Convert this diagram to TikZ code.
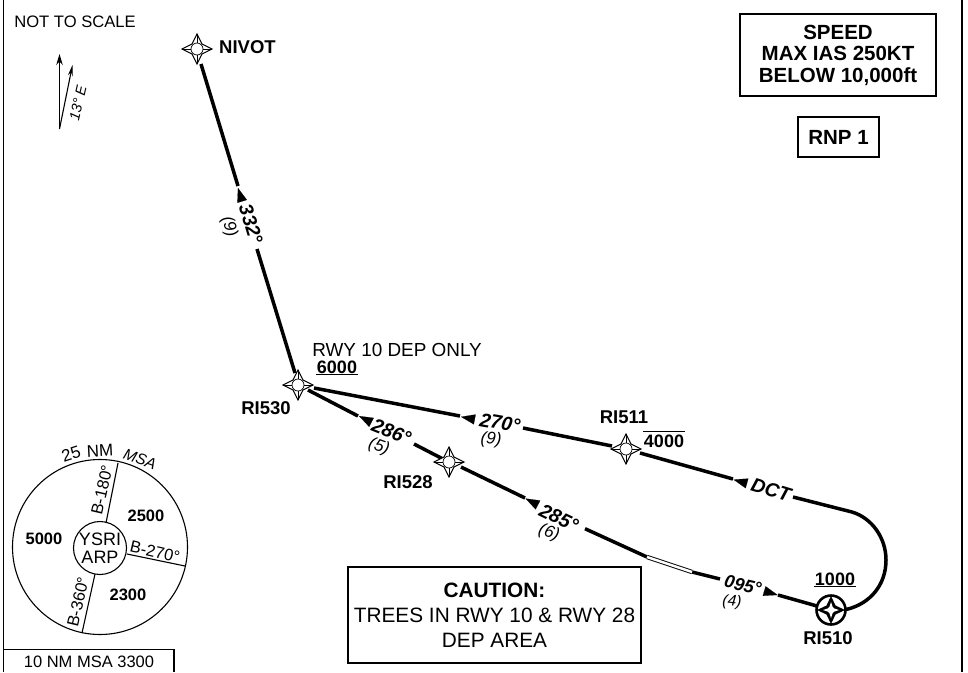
\documentclass[tikz,border=0pt]{standalone}
\usepackage{fontspec}
\setmainfont{Liberation Sans}
\usetikzlibrary{arrows.meta}

\tikzset{
  wpt/.pic={
    \path[draw=black,fill=white,line width=1.000pt]
      (-15,0) -- (-5,-5) -- (0,-15) -- (5,-5) -- (15,0) -- (5,5) -- (0,15) -- (-5,5) -- cycle;
    \path[draw=black,line width=0.700pt] (-15,0) -- (15,0) (0,-15) -- (0,15);
    \path[draw=black,fill=white,line width=0.700pt] (0,0) circle (6);
  },
  flyover/.pic={
    \path[draw=black,fill=white,line width=2.600pt] (0,0) circle (14.5);
    \path[fill=black] (-14,0) -- (-4.5,-4.5) -- (0,-14) -- (4.5,-4.5) -- (14,0) -- (4.5,4.5) -- (0,14) -- (-4.5,4.5) -- cycle;
    \path[fill=white] (-8,0) -- (-2,-2) -- (0,-8) -- (2,-2) -- (8,0) -- (2,2) -- (0,8) -- (-2,2) -- cycle;
    \path[fill=white] (0,0) circle (3.5);
  },
  leg/.style={draw=black,line width=3.500pt},
  legtip/.style={-{Triangle[length=14pt,width=10pt]},draw=black,line width=0.100pt},
  thinline/.style={draw=black,line width=1.100pt},
  altrule/.style={draw=black,line width=1.800pt},
  infobox/.style={draw=black,line width=1.200pt,align=center,inner sep=0pt,font=\fontsize{20.500}{21.500}\selectfont\bfseries},
  fixname/.style={font=\fontsize{18.500}{19}\selectfont\bfseries},
  alt/.style={font=\fontsize{18}{19}\selectfont\bfseries,inner sep=1pt},
  track/.style={font=\fontsize{19.500}{20}\selectfont\bfseries\itshape},
  dist/.style={font=\fontsize{17}{18}\selectfont\itshape},
  plain/.style={font=\fontsize{17}{18}\selectfont},
  brg/.style={font=\fontsize{16.500}{17}\selectfont},
  sector/.style={font=\fontsize{16.500}{17}\selectfont\bfseries}
}

\begin{document}
\begin{tikzpicture}[>=stealth,x=1pt,y=1pt,yscale=-1]
  \useasboundingbox (0,0) rectangle (968,672);
  \path[draw=black,line width=1.200pt] (3.5,0) -- (3.5,672) (962,0) -- (962,672);

  % fixes
  \coordinate (nivot) at (197,49);
  \coordinate (ri530) at (298,385);
  \coordinate (ri528) at (449,462);
  \coordinate (ri511) at (626,449);
  \coordinate (ri510) at (831,610);

  % legs, broken where the labels sit
  \path[leg] (201,64) -- (238,186);
  \path[leg] (257,249) -- (295,373);
  \path[leg] (314,388) -- (460,416);
  \path[leg] (523,428) -- (612,446);
  \path[leg] (640,453) -- (733,479);
  \path[leg] (793,497) -- (852,512) .. controls (872,518) and (886,538) .. (886,560)
    .. controls (886,585) and (870,604) .. (846,609.5);
  \path[leg] (308,390) -- (358,416);
  \path[leg] (414,444) -- (443,459);
  \path[leg] (461,467) -- (525,498);
  \path[leg] (585,528.7) -- (647,557);
  \path[leg] (692,572) -- (720,579);
  \path[leg] (778,595) -- (817,606);
  \path[draw=black,double=white,double distance=2.400pt,line width=1.000pt] (647,557) -- (692,572);

  % arrow tips on the legs
  \path[legtip] (242.100,201.400) -- (238,188);
  \path[legtip] (474.700,419.400) -- (461,416.800);
  \path[legtip] (747,483.400) -- (733.500,479.600);
  \path[legtip] (371.500,422.400) -- (359,416);
  \path[legtip] (538,505) -- (525.500,498.500);
  \path[legtip] (764,591) -- (777.600,595);

  \path (nivot) pic {wpt};
  \path (ri530) pic {wpt};
  \path (ri528) pic {wpt};
  \path (ri511) pic {wpt};
  \path (ri510) pic {flyover};

  % labels
  \node[fixname,anchor=west,inner sep=0pt] (lblnivot) at (219,47) {NIVOT};
  \node[fixname] (lblri530) at (266,408) {RI530};
  \node[fixname] (lblri528) at (408,482) {RI528};
  \node[fixname] (lblri511) at (624,417) {RI511};
  \node[fixname] (lblri510) at (828,638) {RI510};

  \node[track,rotate=-73] (trk332) at (251,224) {332°};
  \node[dist,rotate=-73] (dst332) at (229,227) {(9)};
  \node[track,rotate=-10] (trk270) at (500,423) {270°};
  \node[dist,rotate=-5] (dst270) at (491,440) {(9)};
  \node[track,rotate=-22] (trk286) at (391.5,432) {286°};
  \node[dist,rotate=-20] (dst286) at (379,447) {(5)};
  \node[track,rotate=-26] (trk285) at (559,518) {285°};
  \node[dist,rotate=-20] (dst285) at (549,533) {(6)};
  \node[track,rotate=-17] (trkdct) at (771,490) {DCT};
  \node[track,rotate=-13,font=\fontsize{18}{18}\selectfont\bfseries\itshape] (trk095) at (743,585) {095°};
  \node[dist,rotate=-5,font=\fontsize{15.500}{16}\selectfont\itshape] (dst095) at (732,602) {(4)};

  \node[plain,font=\fontsize{18.900}{19}\selectfont] (lblrwy) at (397,350) {RWY 10 DEP ONLY};
  \node[alt] (alt6000) at (337,367) {6000};
  \path[altrule] (alt6000.south west) -- (alt6000.south east);
  \node[alt,inner ysep=3pt] (alt4000) at (664,441) {4000};
  \path[altrule] (alt4000.north west) -- (alt4000.north east);
  \node[alt] (alt1000) at (835,579) {1000};
  \path[altrule] (alt1000.south west) -- (alt1000.south east);

  % notes
  \node[plain,font=\fontsize{16.600}{18}\selectfont] (lblscale) at (75,22) {NOT TO SCALE};
  \node[infobox,minimum width=196pt,minimum height=82pt] (boxspeed) at (838,55) {SPEED\\MAX IAS 250KT\\BELOW 10,000ft};
  \node[infobox,minimum width=81pt,minimum height=40pt] (boxrnp) at (838.500,137) {RNP 1};
  \node[draw=black,line width=2.200pt,minimum width=293pt,minimum height=96pt,inner sep=0pt,align=center,
    font=\fontsize{20.800}{25}\selectfont] (boxcaution) at (494.500,615) {{\bfseries CAUTION:}\\TREES IN RWY 10 \& RWY 28\\DEP AREA};

  % north arrows
  \coordinate (northbase) at (59.5,129);
  \coordinate (truenorth) at (59.5,54);
  \coordinate (magnorth) at (72.5,65);
  \path[-{Stealth[length=11pt,width=6.500pt]},thinline] (northbase) -- (truenorth);
  \path[-{Stealth[length=11pt,width=5pt]},thinline] (northbase) -- (magnorth);
  \node[brg,rotate=77,font=\fontsize{14.500}{15}\selectfont\itshape] (lblvar) at (78,103) {13° E};

  % msa
  \coordinate (msa) at (100,547);
  \path[draw=black,line width=1.100pt] (msa) circle (87.5);
  \node[draw=black,circle,line width=1.100pt,minimum size=53pt,inner sep=0pt,align=center,
    font=\fontsize{18}{18}\selectfont] (arp) at (100,548) {YSRI\\ARP};
  \path[thinline] (106,523) -- (118,463);
  \path[thinline] (127,554) -- (185,566);
  \path[thinline] (95,574) -- (82,633);
  \node[brg,rotate=77] (b180) at (102,490) {B-180°};
  \node[brg,rotate=-13] (b270) at (155,552) {B-270°};
  \node[brg,rotate=77] (b360) at (78,602) {B-360°};
  \node[sector] (sec5000) at (44,539) {5000};
  \node[sector] (sec2500) at (146,516) {2500};
  \node[sector] (sec2300) at (128,595) {2300};
  \node[plain,rotate=18] (lbl25) at (71,454) {25};
  \node[plain,rotate=3] (lblnm) at (100,451) {NM};
  \node[plain,rotate=-20,font=\fontsize{15.500}{16}\selectfont\itshape] (lblmsa) at (140,459) {MSA};

  \path[draw=black,line width=1.200pt] (3.5,649.5) -- (174,649.5) -- (174,672);
  \node[plain,font=\fontsize{16.500}{18}\selectfont] (lblten) at (89,662) {10 NM MSA 3300};
\end{tikzpicture}
\end{document}
